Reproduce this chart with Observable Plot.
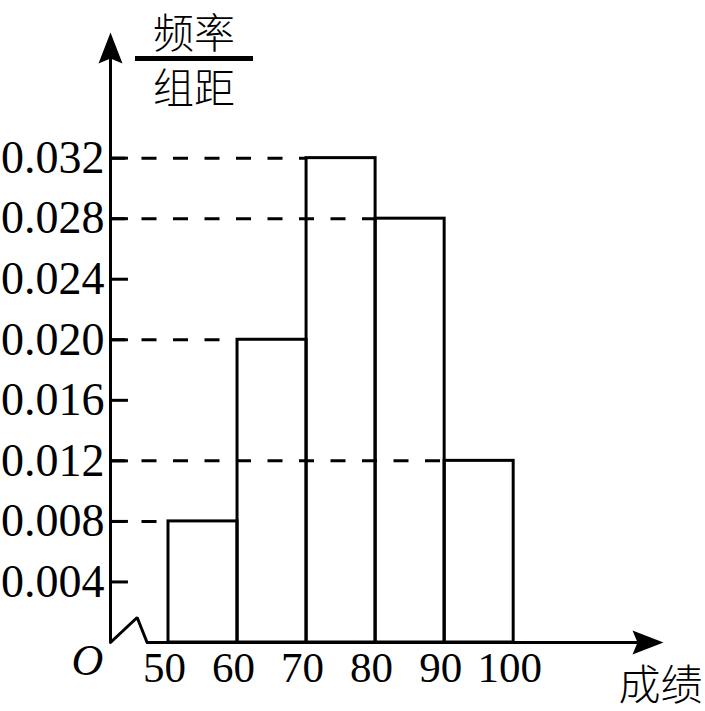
<!DOCTYPE html>
<html>
<head>
<meta charset="utf-8">
<script src="https://cdn.jsdelivr.net/npm/d3@7"></script>
<script src="https://cdn.jsdelivr.net/npm/@observablehq/plot@0.6"></script>
<style>
  html, body { margin: 0; padding: 0; background: #fff; }
  #wrap { position: relative; width: 705px; height: 711px; }
  #title { position: absolute; left: 135px; top: 0px; width: 118px; text-align: center;
           font-family: "Noto Sans CJK SC", sans-serif; font-size: 41px; font-weight: 300; color: #000; }
  #title .num { border-bottom: 5px solid #000; line-height: normal; height: 56px; }
  #title .den { line-height: normal; margin-top: -6px; }
</style>
</head>
<body>
<div id="wrap">
  <div id="chart"></div>
  <div id="title"><div class="num">频率</div><div class="den">组距</div></div>
</div>
<script>
// ---- data ----
const binStart = [50, 60, 70, 80, 90];
const binEnd   = [60, 70, 80, 90, 100];
const density  = [0.008, 0.020, 0.032, 0.028, 0.012];
const yTicks   = [0.004, 0.008, 0.012, 0.016, 0.020, 0.024, 0.028, 0.032];
const xTicks   = [50, 60, 70, 80, 90, 100];
const xDomain  = [41.6, 121.7];
const yDomain  = [0, 0.0403];
// axis break (zigzag) near origin
const breakX   = [41.6, 45.46, 46.9];
const breakY   = [0, 0.00165, 0];

const bins = binStart.map((s, i) => ({x1: s, x2: binEnd[i], h: density[i]}));
const breakPts = breakX.map((x, i) => ({x, y: breakY[i]}));
const tickLen = 2.6; // in x units (~18px)

const serif = "Liberation Serif";
const cjk = "Noto Sans CJK SC";

const arrowUp = {
  draw(ctx) {
    ctx.moveTo(0, 0);
    ctx.lineTo(12, 31);
    ctx.lineTo(0, 26);
    ctx.lineTo(-12, 31);
    ctx.closePath();
  }
};

const chart = Plot.plot({
  width: 705,
  height: 711,
  marginLeft: 110,
  marginTop: 32,
  marginRight: 42,
  marginBottom: 69,
  x: {domain: xDomain},
  y: {domain: yDomain},
  axis: null,
  style: {background: "#fff", color: "#000", overflow: "visible"},
  marks: [
    // dashed guide lines from y axis to bar's left edge
    Plot.ruleY(bins, {y: "h", x1: () => xDomain[0], x2: "x1", stroke: "#000", strokeWidth: 3, strokeDasharray: "15,16.5"}),
    // y ticks
    Plot.ruleY(yTicks, {y: d => d, x1: () => xDomain[0], x2: () => xDomain[0] + tickLen, stroke: "#000", strokeWidth: 3}),
    // bars
    Plot.rect(bins, {x1: "x1", x2: "x2", y1: 0, y2: "h", fill: "none", stroke: "#000", strokeWidth: 3}),
    // y axis line
    Plot.ruleX([xDomain[0]], {stroke: "#000", strokeWidth: 3, insetTop: 10}),
    // x axis line (after the break)
    Plot.ruleY([0], {x1: () => breakX[2], x2: () => xDomain[1], stroke: "#000", strokeWidth: 3, insetRight: 10}),
    // break zigzag
    Plot.line(breakPts, {x: "x", y: "y", stroke: "#000", strokeWidth: 3, strokeLinejoin: "miter"}),
    // arrows
    Plot.dot([0], {frameAnchor: "top-left", symbol: arrowUp, fill: "#000", stroke: null, r: 5}),
    Plot.dot([0], {frameAnchor: "bottom-right", symbol: arrowUp, rotate: 90, fill: "#000", stroke: null, r: 5}),
    // y labels
    Plot.text(yTicks, {y: d => d, text: d => d3.format(".3f")(d), frameAnchor: "left", lineAnchor: "middle", textAnchor: "end", dx: -6,
      fontSize: 46, fontFamily: serif, fill: "#000"}),
    // x labels
    Plot.text(xTicks, {x: d => d, text: d => String(d), frameAnchor: "bottom", lineAnchor: "middle", textAnchor: "middle", dy: 26, dx: -4,
      fontSize: 43, fontFamily: serif, fill: "#000"}),
    // origin
    Plot.text(["O"], {frameAnchor: "bottom-left", lineAnchor: "middle", textAnchor: "middle", dx: -23, dy: 18, fontSize: 44, fontStyle: "italic", fontFamily: serif, fill: "#000"}),
    // x axis title
    Plot.text(["成绩"], {frameAnchor: "bottom-right", lineAnchor: "middle", textAnchor: "middle", dx: -3, dy: 44, fontSize: 42, fontWeight: 300, fontFamily: cjk, fill: "#000"})
  ]
});
document.getElementById("chart").appendChild(chart);
</script>
</body>
</html>
